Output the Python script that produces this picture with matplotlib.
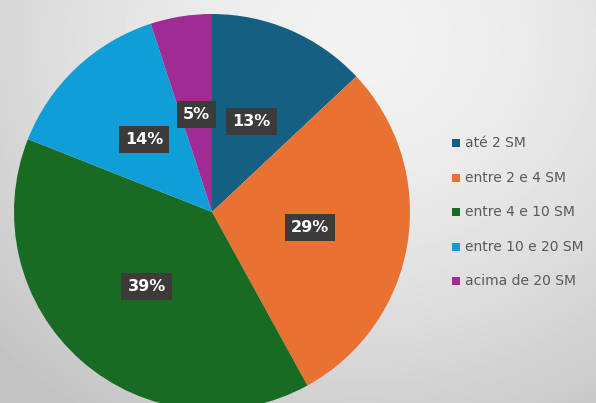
import numpy as np
import matplotlib
matplotlib.use("Agg")
import matplotlib.pyplot as plt

categories = ["até 2 SM", "entre 2 e 4 SM", "entre 4 e 10 SM", "entre 10 e 20 SM", "acima de 20 SM"]
shares = [13, 29, 39, 14, 5]
colors = ["#156082", "#E97132", "#196B24", "#0F9ED5", "#A02B93"]

W, H = 596, 403
fig = plt.figure(figsize=(W / 100, H / 100), dpi=100)

# soft grey backdrop, brightest toward the upper right
bg = fig.add_axes([0, 0, 1, 1])
yy, xx = np.mgrid[0:H, 0:W]
d = np.hypot((xx - 360) / 420, (yy - 40) / 380)
shade = 0.95 - 0.14 * np.clip(d, 0, 1.2) ** 1.6
bg.imshow(shade, cmap="gray", vmin=0, vmax=1, extent=[0, W, H, 0], aspect="auto", interpolation="bilinear")
bg.set_axis_off()

# pie: centre (212, 212) px, radius 198 px
cx, cy, r = 212, 212, 198
ax = fig.add_axes([(cx - r) / W, (H - cy - r) / H, 2 * r / W, 2 * r / H])
wedges, _, autotexts = ax.pie(
    shares, colors=colors, startangle=90, counterclock=False,
    autopct="%1.0f%%", pctdistance=0.5,
    wedgeprops=dict(linewidth=0),
    textprops=dict(color="white", fontsize=11.5, fontweight="bold"),
)
for w in wedges:
    w.set_clip_on(False)
for t in autotexts:
    t.set_bbox(dict(boxstyle="square,pad=0.38", facecolor="#3d3a3a", edgecolor="none"))
ax.set_xlim(-1, 1)
ax.set_ylim(-1, 1)
ax.set_aspect("equal")
ax.set_axis_off()

# legend
for i, (lab, col) in enumerate(zip(categories, colors)):
    y = 1 - (143 + 34.5 * i) / H
    fig.patches.append(plt.Rectangle((452 / W, y - 4 / H), 8 / W, 8 / H,
                                     transform=fig.transFigure, facecolor=col, edgecolor="none"))
    fig.text(465 / W, y, lab, fontsize=10, color="#595959", va="center", ha="left",
             family="DejaVu Sans")

fig.savefig("out.png", dpi=100)
